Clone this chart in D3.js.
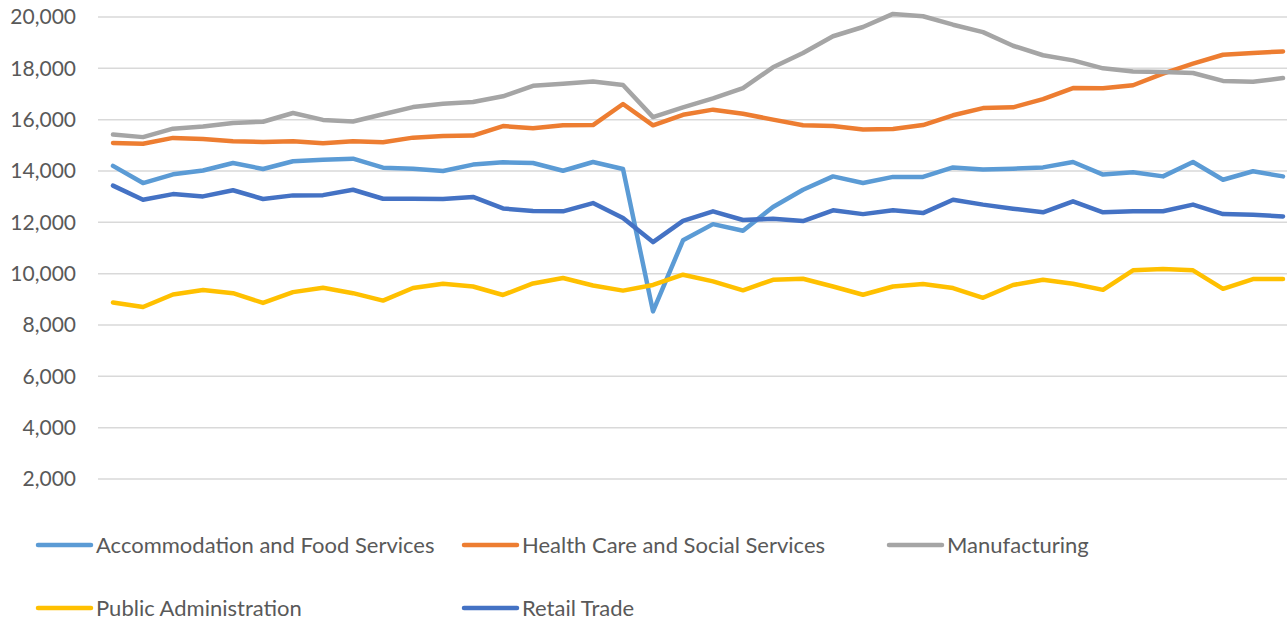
<!DOCTYPE html>
<html>
<head>
<meta charset="utf-8">
<script src="https://cdn.jsdelivr.net/npm/d3@7"></script>
<style>
    body { margin: 0; background: #fff; }
    svg text { font-family: Lato, "Open Sans", sans-serif; fill: #595959; }
</style>
</head>
<body>
<svg id="chart"></svg>
<script>
// 40 periods, no category labels shown
const periods = d3.range(40);

const seriesNames = [
    "Accommodation and Food Services",
    "Health Care and Social Services",
    "Manufacturing",
    "Public Administration",
    "Retail Trade"
];

const accommodation = [14200, 13530, 13870, 14020, 14310, 14080, 14380, 14440, 14480, 14130,
    14090, 14000, 14250, 14340, 14310, 14010, 14350, 14080, 8530, 11300,
    11930, 11670, 12600, 13270, 13790, 13530, 13770, 13770, 14140, 14060,
    14090, 14140, 14350, 13860, 13950, 13790, 14350, 13660, 13990, 13790];

const healthCare = [15090, 15060, 15290, 15250, 15160, 15130, 15160, 15080, 15160, 15120,
    15300, 15360, 15380, 15750, 15670, 15780, 15790, 16610, 15780, 16190,
    16390, 16230, 16000, 15780, 15750, 15620, 15640, 15790, 16170, 16450,
    16480, 16800, 17230, 17220, 17340, 17790, 18180, 18530, 18600, 18660];

const manufacturing = [15420, 15320, 15650, 15730, 15870, 15920, 16260, 15990, 15930, 16210,
    16490, 16620, 16690, 16910, 17320, 17400, 17490, 17350, 16100, 16480,
    16830, 17230, 18040, 18600, 19250, 19610, 20120, 20030, 19700, 19410,
    18880, 18510, 18310, 18000, 17880, 17860, 17820, 17510, 17480, 17620];

const publicAdmin = [8880, 8700, 9190, 9360, 9240, 8860, 9280, 9450, 9240, 8950,
    9440, 9610, 9500, 9170, 9620, 9830, 9540, 9340, 9560, 9960,
    9700, 9350, 9760, 9800, 9500, 9180, 9500, 9600, 9440, 9060,
    9560, 9760, 9610, 9370, 10130, 10180, 10130, 9410, 9790, 9790];

const retail = [13430, 12880, 13100, 13010, 13250, 12910, 13050, 13060, 13270, 12920,
    12920, 12910, 12990, 12540, 12440, 12430, 12750, 12170, 11230, 12060,
    12430, 12090, 12140, 12050, 12470, 12320, 12470, 12360, 12880, 12690,
    12530, 12390, 12820, 12390, 12430, 12430, 12690, 12320, 12300, 12230];

const yTicks = [2000, 4000, 6000, 8000, 10000, 12000, 14000, 16000, 18000, 20000];

const colors = ["#5B9BD5", "#ED7D31", "#A5A5A5", "#FFC000", "#4472C4"];
const allSeries = [accommodation, healthCare, manufacturing, publicAdmin, retail];

const width = 1287, height = 624;

const svg = d3.select("#chart")
    .attr("width", width)
    .attr("height", height);

const x = d3.scalePoint()
    .domain(periods)
    .range([98, 1298])
    .padding(0.5);

const y = d3.scaleLinear()
    .domain([2000, 20000])
    .range([479, 17]);

// gridlines
svg.append("g")
    .selectAll("line")
    .data(yTicks)
    .join("line")
    .attr("x1", 98)
    .attr("x2", 1298)
    .attr("y1", d => y(d))
    .attr("y2", d => y(d))
    .style("stroke", "#D9D9D9")
    .style("stroke-width", 1.5);

// y axis labels
const yAxis = d3.axisLeft(y)
    .tickValues(yTicks)
    .tickFormat(d3.format(","))
    .tickSize(0)
    .tickPadding(0);

svg.append("g")
    .attr("transform", "translate(76,0)")
    .call(yAxis)
    .call(g => g.select(".domain").remove())
    .selectAll("text")
    .style("font-family", "Lato, 'Open Sans', sans-serif")
    .style("font-size", "21px")
    .style("fill", "#595959");

// lines
const line = d3.line()
    .x((d, i) => x(periods[i]))
    .y(d => y(d));

allSeries.forEach((values, k) => {
    svg.append("path")
        .datum(values)
        .attr("d", line)
        .style("fill", "none")
        .style("stroke", colors[k])
        .style("stroke-width", 4.5)
        .style("stroke-linejoin", "round")
        .style("stroke-linecap", "round");
});

// legend
const legendCols = [38, 464, 889];
const legendRows = [545, 608];

seriesNames.forEach((name, k) => {
    const lx = legendCols[k % 3];
    const ly = legendRows[Math.floor(k / 3)];
    const g = svg.append("g").attr("transform", `translate(${lx},${ly})`);
    g.append("line")
        .attr("x1", 0)
        .attr("x2", 53)
        .style("stroke", colors[k])
        .style("stroke-width", 4.5)
        .style("stroke-linecap", "round");
    g.append("text")
        .attr("x", 58)
        .attr("dy", "0.35em")
        .style("font-size", "22px")
        .text(name);
});
</script>
</body>
</html>
